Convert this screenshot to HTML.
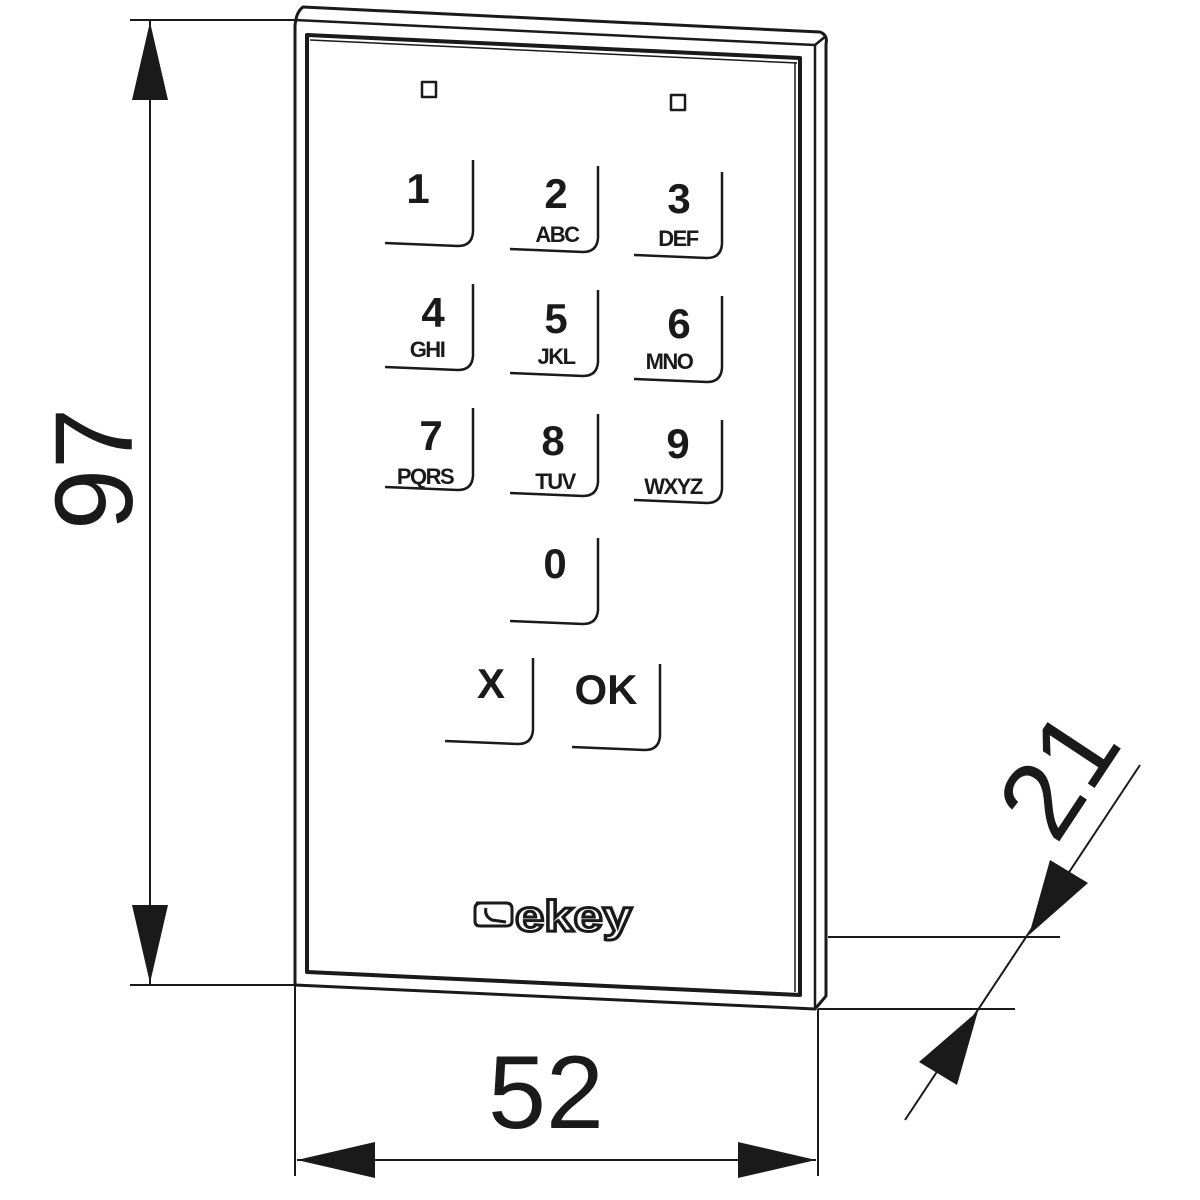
<!DOCTYPE html>
<html><head><meta charset="utf-8"><style>
html,body{margin:0;padding:0;background:#fff}
svg{display:block}
.d{font-family:"Liberation Sans",Arial,sans-serif;fill:#1a1a1a}
.k{font-family:"Liberation Sans",Arial,sans-serif;font-weight:bold;fill:#1a1a1a;text-anchor:middle}
</style></head><body>
<svg width="1200" height="1200" viewBox="0 0 1200 1200" xmlns="http://www.w3.org/2000/svg">
<g fill="none" stroke="#1a1a1a" stroke-linejoin="round">
<path d="M295,985 L295,26 Q296,12 303,7 L820,32 Q828,35 826,44 L826,996 L815,1009 Z" stroke-width="3" fill="#fff"/>
<path d="M295,20 L815,45 L826,36" stroke-width="2.5"/>
<path d="M815,45 L815,1009" stroke-width="2.5"/>
<path d="M307,35 L800,58 L800,995 L307,972 Z" stroke-width="4"/>
<path d="M310,40 L797,63" stroke-width="1.5"/>
<path d="M795,62 L795,992" stroke-width="1.5"/>
<path d="M422,82 h14 v15 h-14 Z" stroke-width="2.5"/>
<path d="M671,95 h14 v15 h-14 Z" stroke-width="2.5"/>
<g stroke-width="2.5">
<path d="M473,160 V232 Q472,246 458,246 L385,243"/>
<path d="M598,166 V238 Q597,252 583,252 L510,249"/>
<path d="M722,172 V244 Q721,258 707,258 L634,255"/>
<path d="M473,284 V356 Q472,370 458,370 L385,367"/>
<path d="M598,290 V362 Q597,376 583,376 L510,373"/>
<path d="M722,296 V368 Q721,382 707,382 L634,379"/>
<path d="M473,408 V476 Q472,490 458,490 L385,487"/>
<path d="M598,414 V482 Q597,496 583,496 L510,493"/>
<path d="M722,420 V489 Q721,503 707,503 L634,500"/>
<path d="M598,538 V610 Q597,624 583,624 L510,621"/>
<path d="M533,658 V730 Q532,744 518,744 L445,741"/>
<path d="M660,664 V736 Q659,750 645,750 L572,747"/>
</g>
<g stroke-width="2">
<path d="M150,20 V985"/>
<path d="M130,20 H295"/>
<path d="M130,985 H295"/>
<path d="M295,985 V1176"/>
<path d="M818,1009 V1176"/>
<path d="M297,1160 H816"/>
<path d="M828,937 H1060"/>
<path d="M818,1009 H1015"/>
<path d="M905,1120 L1140,765"/>
</g>
</g>
<g fill="#1a1a1a">
<path d="M150,22 L132,100 L168,100 Z"/>
<path d="M150,983 L132,905 L168,905 Z"/>
<path d="M297,1160 L375,1142 L375,1178 Z"/>
<path d="M816,1160 L738,1142 L738,1178 Z"/>
<path d="M1029,935 L1088,883 L1050,860 Z"/>
<path d="M978,1011 L919,1062 L957,1085 Z"/>
</g>
<text class="d" x="0" y="0" font-size="110" text-anchor="middle" transform="translate(132,469) rotate(-90)">97</text>
<text class="d" x="546" y="1128" font-size="104" text-anchor="middle">52</text>
<text class="d" x="0" y="0" font-size="110" text-anchor="middle" transform="translate(1090,795) rotate(-56.5)">21</text>
<g class="k">
<text x="418" y="203" font-size="42">1</text>
<text x="556" y="208" font-size="42">2</text>
<text x="557" y="242" font-size="22" letter-spacing="-1.5">ABC</text>
<text x="679" y="213" font-size="42">3</text>
<text x="678" y="246" font-size="22" letter-spacing="-1.5">DEF</text>
<text x="433" y="327" font-size="42">4</text>
<text x="427" y="357" font-size="22" letter-spacing="-1.5">GHI</text>
<text x="556" y="333" font-size="42">5</text>
<text x="556" y="364" font-size="22" letter-spacing="-1.5">JKL</text>
<text x="679" y="338" font-size="42">6</text>
<text x="669" y="369" font-size="22" letter-spacing="-1.5">MNO</text>
<text x="431" y="450" font-size="42">7</text>
<text x="425" y="484" font-size="22" letter-spacing="-1.5">PQRS</text>
<text x="553" y="455" font-size="42">8</text>
<text x="555" y="489" font-size="22" letter-spacing="-1.5">TUV</text>
<text x="678" y="458" font-size="42">9</text>
<text x="673" y="494" font-size="22" letter-spacing="-1.5">WXYZ</text>
<text x="555" y="578" font-size="42">0</text>
<text x="491" y="698" font-size="42">X</text>
<text x="606" y="704" font-size="42">OK</text>
</g>
<path d="M476,903 h30 q6,0 6,6 v12 q0,5 -6,5 h-26 q-5,0 -5,-5 v-12 q0,-6 6,-6 Z M486,908 q-2,8 6,12 l14,2" fill="none" stroke="#1a1a1a" stroke-width="3"/>
<text x="515" y="931" font-family="Liberation Sans,Arial,sans-serif" font-weight="bold" font-size="44" fill="#fff" stroke="#1a1a1a" stroke-width="3" textLength="117" lengthAdjust="spacingAndGlyphs">ekey</text>
</svg>
</body></html>
